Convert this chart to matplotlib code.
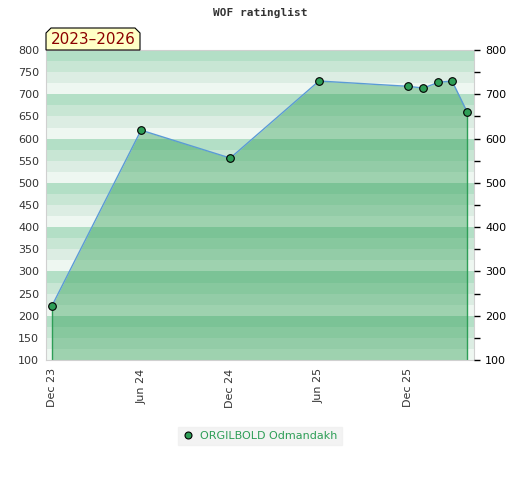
import datetime as dt
import matplotlib
matplotlib.use('Agg')
import matplotlib.pyplot as plt
import matplotlib.dates as mdates
from matplotlib.patches import Polygon
from matplotlib.lines import Line2D

# ratings
dates = [dt.date(2023, 12, 1), dt.date(2024, 6, 1), dt.date(2024, 12, 1),
         dt.date(2025, 6, 1), dt.date(2025, 12, 1), dt.date(2026, 1, 1),
         dt.date(2026, 2, 1), dt.date(2026, 3, 1), dt.date(2026, 4, 1)]
ratings = [222, 619, 556, 730, 718, 714, 727, 730, 660]
player = "ORGILBOLD Odmandakh"
period = "2023\u20132026"
tick_dates = [dt.date(2023, 12, 1), dt.date(2024, 6, 1), dt.date(2024, 12, 1),
              dt.date(2025, 6, 1), dt.date(2025, 12, 1)]
tick_labels = ["Dec 23", "Jun 24", "Dec 24", "Jun 25", "Dec 25"]

ymin, ymax = 100, 800
band_colors = ['#eef7f1', '#dcede3', '#c8e6d4', '#b3dfc6']

fig = plt.figure(figsize=(5.2, 4.8), dpi=100)
ax = fig.add_axes([0.0885, 0.25, 0.823, 0.6458])

# striped background, 25 points per band
for lo in range(ymin, ymax, 25):
    ax.axhspan(lo, lo + 25, color=band_colors[(lo % 100) // 25], lw=0, zorder=0)

x = mdates.date2num(dates)
ax.fill_between(x, ratings, ymin, color='#279b4e', alpha=0.4, lw=0, zorder=1)
ax.vlines([x[0], x[-1]], ymin, [ratings[0], ratings[-1]], color='#2e9e57', lw=1, zorder=2)
ax.plot(x, ratings, color='#5b9bd5', lw=1, zorder=3)
ax.plot(x, ratings, 'o', ms=5.5, mfc='#2e9e57', mec='black', mew=0.8, zorder=4)

ax.set_ylim(ymin, ymax)
ax.set_xlim(x[0] - 12, x[-1] + 14)
ax.set_yticks(range(ymin, ymax + 1, 50))
ax.tick_params(axis='y', length=0, labelsize=8, labelcolor='#333333', pad=5)
ax.set_xticks(mdates.date2num(tick_dates))
ax.set_xticklabels(tick_labels, rotation=90)
ax.tick_params(axis='x', length=0, labelsize=8, labelcolor='#333333', pad=6)
for s in ax.spines.values():
    s.set_color('#d0d0d0')

ax2 = ax.twinx()
ax2.set_ylim(ymin, ymax)
ax2.set_yticks(range(ymin, ymax + 1, 100))
ax2.set_yticks(range(150, ymax, 100), minor=True)
ax2.tick_params(axis='y', which='major', length=4, width=1, color='black',
                labelsize=8, labelcolor='black', pad=4)
ax2.tick_params(axis='y', which='minor', length=4, width=1, color='black')
for s in ax2.spines.values():
    s.set_visible(False)

fig.text(0.5, 0.972, "WOF ratinglist", ha='center', va='center',
         fontsize=8, fontweight='bold', family='DejaVu Sans Mono', color='#333333')

# period tag with clipped corners
tx0, tx1, ty0, ty1 = 46 / 520, 140 / 520, 1 - 50 / 480, 1 - 28 / 480
c = 5 / 520
cy = 5 / 480
tag = Polygon([(tx0, ty0), (tx0, ty1 - cy), (tx0 + c, ty1), (tx1 - c, ty1),
               (tx1, ty1 - cy), (tx1, ty0)], closed=True, transform=fig.transFigure,
              facecolor='#ffffc6', edgecolor='black', lw=0.8)
fig.patches.append(tag)
fig.text((tx0 + tx1) / 2, (ty0 + ty1) / 2 - 0.002, period, ha='center', va='center',
         fontsize=11, color='#8b0000')

handle = Line2D([], [], ls='none', marker='o', ms=5, mfc='#2e9e57', mec='black', mew=0.8)
leg = fig.legend([handle], [player], loc='center', bbox_to_anchor=(0.5, 1 - 436 / 480),
                 frameon=True, fontsize=8, handlelength=1, handletextpad=0.6,
                 borderpad=0.4, fancybox=False)
leg.get_frame().set_facecolor('#f0f0f0')
leg.get_frame().set_edgecolor('#f0f0f0')
for t in leg.get_texts():
    t.set_color('#2e9e57')

fig.savefig('out.png', dpi=100)
